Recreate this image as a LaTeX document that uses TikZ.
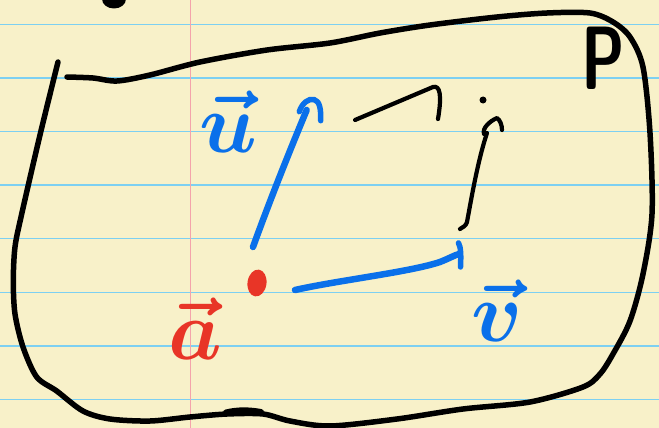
\documentclass[tikz,border=0pt]{standalone}
\usepackage{graphicx}
\begin{document}
\begin{tikzpicture}[x=1pt,y=-1pt,
  pen/.style={line cap=round,line join=round},
  blk/.style={pen,draw=black,line width=5.5pt},
  blkthin/.style={pen,draw=black,line width=4.2pt},
  blu/.style={pen,draw=penblue,line width=6.5pt},
  rule/.style={draw=ruleblue,line width=1.4pt},
  lbl/.style={inner sep=0pt,anchor=base}]
\definecolor{paper}{HTML}{F8F1C9}
\definecolor{ruleblue}{HTML}{7DD0F2}
\definecolor{marginpink}{HTML}{F4A3AB}
\definecolor{penblue}{HTML}{0A70EA}
\definecolor{penred}{HTML}{E83527}
\useasboundingbox (0,0) rectangle (659,428);
\fill[paper] (0,0) rectangle (659,428);
\foreach \y in {24.3,77.9,131.5,185.1,238.7,292.3,345.9,399.5}
  \draw[rule] (0,\y) -- (659,\y);
\draw[draw=marginpink,line width=1.4pt] (190.7,0) -- (190.7,428);
% blot at top
\fill[black] (114,-1) ellipse [x radius=12,y radius=9.5];
% plane outline
\draw[blk] plot[smooth,tension=0.5] coordinates {(58,62) (40,135) (21.7,214) (15,247) (13.3,281) (15,314) (23,347) (36.7,377) (56.7,391) (83,411) (110,419) (150,421) (190,417) (227,414) (263,414) (290,421) (330,426) (397,419) (463,409) (530,402) (583,387) (600,374) (613,354) (630,321) (643,274) (652,214) (650,133) (643,67) (630,37) (613,22) (590,13) (547,13) (497,17) (430,25) (380,33) (330,43) (267,50) (200,62) (150,75) (117,81) (93,78) (67,77)};
\draw[blk,line width=6pt] (226,412.5) .. controls (238,409.5) and (250,410) .. (261,412);
% label P
\node[lbl] (P) at (603,90) {\scalebox{6.2}[9]{\bfseries\sffamily P}};
% points
\coordinate (A) at (257,283);
\coordinate (ustart) at (253,247);
\coordinate (utip) at (306.7,110);
\coordinate (vstart) at (295,290);
\coordinate (vtip) at (459,254);
\coordinate (wstart) at (463,227);
\coordinate (wtip) at (487,133);
\coordinate (tstart) at (355,120);
\coordinate (ttip) at (433,87);
\node[fill=black,circle,inner sep=0pt,minimum size=7pt] (dot) at (483,100) {};
% red point a
\fill[penred,rotate around={-8:(A)}] (A) ellipse [x radius=9.5,y radius=13.5];
% vector u
\draw[blu] (ustart) .. controls (270,200) and (290,150) .. (utip);
\draw[blu,line width=5.5pt] (299.3,111.7) .. controls (302,103) and (309,98) .. (314,99.5) .. controls (320,101) and (321,110) .. (320.7,120.7);
% vector v
\draw[blu] (vstart) .. controls (340,280) and (410,272) .. (440,262) .. controls (450,258) and (455,255) .. (vtip);
\draw[blu,line width=5.5pt] (458.5,243) .. controls (461,247) and (461,256) .. (460.5,267);
% black translated edges
\draw[blkthin] (tstart) -- (ttip) .. controls (440,85) and (442,95) .. (438,119);
\draw[blkthin] (460,229) .. controls (463,227) and (466,226) .. (467,222) .. controls (472,195) and (478,160) .. (wtip);
\draw[blkthin] (484,134) .. controls (482,128) and (490,121) .. (497,118) .. controls (500,120) and (502,125) .. (502,130);
% labels
\node[lbl,penblue] (ulabel) at (228,152) {\scalebox{8.5}{\boldmath$\vec u$}};
\node[lbl,penblue] (vlabel) at (497,341) {\scalebox{8.5}{\boldmath$\vec v$}};
\node[lbl,penred] (alabel) at (195,359) {\scalebox{8.5}{\boldmath$\vec a$}};
\end{tikzpicture}
\end{document}
